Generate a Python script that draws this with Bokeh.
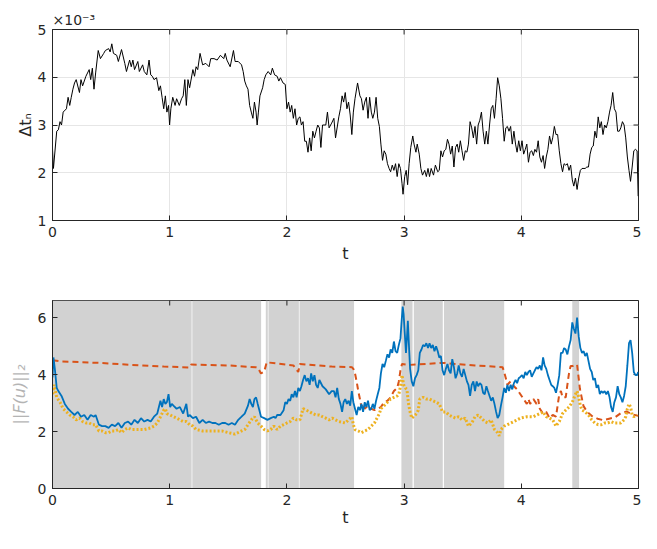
import math
from bokeh.plotting import figure
from bokeh.layouts import column
from bokeh.models import Range1d, FixedTicker
from bokeh.embed import file_html
from bokeh.resources import INLINE

# ---------------- top panel: time step (units of 1e-3) ----------------
top_t = [0.000, 0.008, 0.036, 0.050, 0.064, 0.077, 0.091, 0.119, 0.133, 0.147, 0.160, 0.174, 0.188, 0.202,
         0.230, 0.243, 0.257, 0.285, 0.313, 0.326, 0.340, 0.354, 0.368, 0.390, 0.409, 0.437, 0.451, 0.479,
         0.492, 0.506, 0.520, 0.548, 0.562, 0.589, 0.617, 0.631, 0.658, 0.672, 0.686, 0.700, 0.728, 0.741,
         0.769, 0.783, 0.805, 0.824, 0.838, 0.852, 0.866, 0.888, 0.907, 0.921, 0.935, 0.949, 0.963, 0.976,
         0.990, 0.999, 1.010, 1.026, 1.046, 1.059, 1.082, 1.101, 1.115, 1.129, 1.142, 1.156, 1.170, 1.198,
         1.212, 1.225, 1.239, 1.259, 1.281, 1.308, 1.336, 1.350, 1.378, 1.405, 1.433, 1.461, 1.474, 1.488,
         1.516, 1.544, 1.558, 1.585, 1.613, 1.627, 1.640, 1.654, 1.668, 1.682, 1.696, 1.710, 1.723, 1.737,
         1.746, 1.757, 1.770, 1.793, 1.806, 1.820, 1.840, 1.862, 1.876, 1.895, 1.917, 1.931, 1.945, 1.967,
         1.986, 2.000, 2.014, 2.028, 2.041, 2.055, 2.069, 2.083, 2.097, 2.111, 2.124, 2.138, 2.152, 2.166,
         2.180, 2.194, 2.207, 2.221, 2.235, 2.249, 2.263, 2.277, 2.290, 2.304, 2.332, 2.346, 2.360, 2.382,
         2.401, 2.415, 2.443, 2.457, 2.471, 2.484, 2.498, 2.512, 2.526, 2.540, 2.554, 2.567, 2.581, 2.603,
         2.623, 2.636, 2.650, 2.664, 2.678, 2.692, 2.706, 2.720, 2.733, 2.747, 2.761, 2.775, 2.789, 2.802,
         2.816, 2.830, 2.844, 2.858, 2.872, 2.885, 2.899, 2.913, 2.927, 2.941, 2.955, 2.969, 2.982, 2.991,
         3.005, 3.018, 3.030, 3.043, 3.057, 3.074, 3.085, 3.101, 3.112, 3.129, 3.143, 3.157, 3.176, 3.190,
         3.204, 3.217, 3.231, 3.251, 3.267, 3.287, 3.300, 3.314, 3.328, 3.342, 3.356, 3.370, 3.383, 3.397,
         3.411, 3.425, 3.439, 3.453, 3.466, 3.480, 3.494, 3.508, 3.522, 3.536, 3.549, 3.563, 3.577, 3.591,
         3.605, 3.619, 3.632, 3.646, 3.660, 3.674, 3.688, 3.702, 3.715, 3.729, 3.743, 3.757, 3.771, 3.785,
         3.798, 3.812, 3.826, 3.840, 3.854, 3.868, 3.881, 3.895, 3.909, 3.923, 3.937, 3.951, 3.964, 3.978,
         3.992, 4.006, 4.020, 4.034, 4.047, 4.061, 4.075, 4.089, 4.103, 4.116, 4.130, 4.144, 4.158, 4.172,
         4.186, 4.199, 4.213, 4.227, 4.241, 4.255, 4.268, 4.282, 4.296, 4.310, 4.324, 4.338, 4.352, 4.365,
         4.379, 4.393, 4.407, 4.421, 4.435, 4.448, 4.462, 4.476, 4.490, 4.504, 4.518, 4.545, 4.559, 4.573,
         4.587, 4.601, 4.614, 4.628, 4.642, 4.656, 4.670, 4.683, 4.697, 4.711, 4.725, 4.739, 4.753, 4.766,
         4.780, 4.794, 4.808, 4.822, 4.836, 4.849, 4.863, 4.877, 4.891, 4.905, 4.919, 4.932, 4.946, 4.960,
         4.974, 4.988, 4.997]
top_dt = [2.50, 2.09, 2.87, 2.90, 3.07, 3.00, 3.27, 3.34, 3.58, 3.41, 3.58, 3.75, 3.88, 3.95,
          3.68, 3.95, 3.82, 4.02, 4.16, 3.95, 4.19, 3.75, 4.09, 4.56, 4.39, 4.50, 4.56, 4.60,
          4.53, 4.70, 4.50, 4.46, 4.33, 4.58, 4.29, 4.12, 4.36, 4.22, 4.36, 4.16, 4.33, 4.12,
          4.26, 4.12, 4.05, 4.36, 4.05, 4.02, 3.95, 3.99, 3.72, 3.82, 3.58, 3.34, 3.61, 3.27,
          3.41, 3.00, 3.34, 3.58, 3.41, 3.55, 3.41, 3.55, 3.61, 3.95, 3.41, 3.95, 3.78, 4.16,
          4.02, 4.22, 4.16, 4.50, 4.26, 4.29, 4.22, 4.39, 4.39, 4.36, 4.46, 4.39, 4.50, 4.36,
          4.22, 4.56, 4.33, 4.33, 4.26, 4.12, 3.92, 3.82, 3.75, 3.41, 3.27, 3.14, 3.48, 3.27,
          3.00, 3.27, 3.61, 3.78, 3.95, 4.05, 4.12, 4.05, 4.19, 4.05, 4.02, 3.92, 3.99, 3.88,
          3.85, 3.34, 3.48, 3.27, 3.41, 3.14, 3.34, 3.00, 3.14, 3.17, 3.00, 3.07, 2.66, 2.66,
          2.43, 2.73, 2.46, 2.87, 2.73, 2.87, 3.00, 2.94, 2.53, 3.00, 3.00, 3.27, 2.94, 3.04,
          3.14, 2.73, 3.17, 3.34, 3.61, 3.48, 3.68, 3.34, 3.48, 3.21, 2.80, 3.27, 3.55, 3.88,
          3.61, 3.55, 3.31, 3.48, 3.58, 3.14, 3.58, 3.27, 3.14, 3.27, 3.58, 3.14, 2.97, 2.60,
          2.26, 2.46, 2.39, 2.19, 2.09, 2.02, 2.16, 2.05, 2.19, 1.92, 2.19, 2.09, 1.78, 1.55,
          1.92, 2.05, 1.75, 2.19, 2.53, 2.77, 2.60, 2.43, 2.60, 2.39, 2.09, 1.95, 2.05, 1.92,
          2.09, 1.92, 2.09, 1.95, 2.16, 2.02, 2.05, 2.46, 2.33, 2.46, 2.49, 2.70, 2.60, 2.39,
          2.56, 2.12, 2.53, 2.60, 2.43, 2.67, 2.46, 2.26, 2.46, 2.43, 2.60, 3.07, 2.94, 2.73,
          2.97, 2.60, 3.00, 3.10, 3.27, 2.87, 2.60, 2.87, 2.60, 3.00, 3.34, 3.41, 3.14, 3.55,
          3.99, 3.82, 3.55, 3.14, 2.66, 2.94, 2.97, 2.87, 2.97, 2.60, 2.87, 2.60, 2.43, 2.67,
          2.46, 2.67, 2.39, 2.49, 2.60, 2.22, 2.43, 2.46, 2.36, 2.49, 2.43, 2.67, 2.33, 2.22,
          2.36, 2.09, 2.33, 2.49, 2.77, 2.60, 2.73, 2.97, 2.80, 2.80, 2.46, 2.19, 2.02, 2.19,
          2.16, 2.19, 2.05, 2.16, 1.85, 1.72, 1.89, 1.65, 1.89, 2.05, 2.09, 2.09, 2.12, 2.12,
          2.39, 2.53, 2.56, 2.87, 2.73, 3.17, 2.94, 3.07, 2.80, 3.00, 2.94, 3.07, 3.27, 3.41,
          3.68, 3.34, 3.27, 2.87, 2.87, 2.94, 3.07, 3.00, 2.73, 2.33, 2.05, 1.82, 2.12, 2.46,
          2.49, 2.46, 1.51]

# ---------------- bottom panel ----------------
blue_t = [0.000, 0.008, 0.020, 0.036, 0.050, 0.077, 0.105, 0.133, 0.160, 0.188, 0.216, 0.243, 0.271, 0.299,
          0.326, 0.354, 0.368, 0.396, 0.423, 0.451, 0.479, 0.506, 0.534, 0.562, 0.589, 0.617, 0.645, 0.672,
          0.700, 0.728, 0.755, 0.783, 0.811, 0.838, 0.866, 0.894, 0.921, 0.935, 0.949, 0.963, 0.976, 0.990,
          1.004, 1.018, 1.032, 1.059, 1.087, 1.115, 1.142, 1.156, 1.170, 1.198, 1.225, 1.253, 1.281, 1.308,
          1.336, 1.364, 1.391, 1.419, 1.447, 1.474, 1.502, 1.530, 1.557, 1.585, 1.613, 1.640, 1.668, 1.682,
          1.696, 1.710, 1.723, 1.737, 1.751, 1.765, 1.779, 1.806, 1.834, 1.862, 1.889, 1.903, 1.917, 1.945,
          1.972, 1.986, 2.000, 2.014, 2.028, 2.041, 2.055, 2.069, 2.083, 2.097, 2.111, 2.124, 2.138, 2.152,
          2.166, 2.180, 2.194, 2.207, 2.221, 2.235, 2.249, 2.263, 2.277, 2.304, 2.332, 2.360, 2.382, 2.401,
          2.415, 2.429, 2.443, 2.457, 2.471, 2.484, 2.498, 2.512, 2.526, 2.540, 2.554, 2.567, 2.581, 2.595,
          2.609, 2.623, 2.636, 2.650, 2.664, 2.678, 2.692, 2.706, 2.720, 2.733, 2.747, 2.761, 2.775, 2.789,
          2.802, 2.816, 2.830, 2.844, 2.858, 2.872, 2.885, 2.899, 2.913, 2.927, 2.941, 2.955, 2.969, 2.977,
          2.988, 2.996, 3.005, 3.016, 3.024, 3.032, 3.043, 3.051, 3.065, 3.079, 3.093, 3.107, 3.121, 3.134,
          3.148, 3.162, 3.176, 3.190, 3.204, 3.217, 3.231, 3.245, 3.259, 3.273, 3.287, 3.300, 3.314, 3.328,
          3.342, 3.356, 3.370, 3.383, 3.397, 3.411, 3.425, 3.439, 3.453, 3.466, 3.480, 3.494, 3.508, 3.522,
          3.536, 3.549, 3.563, 3.577, 3.591, 3.605, 3.619, 3.632, 3.646, 3.660, 3.674, 3.688, 3.702, 3.715,
          3.729, 3.743, 3.757, 3.771, 3.785, 3.798, 3.812, 3.826, 3.840, 3.854, 3.868, 3.881, 3.895, 3.909,
          3.923, 3.937, 3.951, 3.964, 3.978, 3.992, 4.006, 4.020, 4.034, 4.047, 4.061, 4.075, 4.089, 4.103,
          4.116, 4.130, 4.144, 4.158, 4.172, 4.186, 4.199, 4.213, 4.227, 4.241, 4.255, 4.268, 4.282, 4.296,
          4.310, 4.324, 4.338, 4.352, 4.365, 4.379, 4.393, 4.407, 4.421, 4.435, 4.448, 4.462, 4.476, 4.490,
          4.504, 4.518, 4.532, 4.545, 4.559, 4.573, 4.587, 4.601, 4.614, 4.628, 4.642, 4.656, 4.670, 4.683,
          4.697, 4.711, 4.725, 4.739, 4.753, 4.766, 4.780, 4.794, 4.808, 4.822, 4.836, 4.849, 4.863, 4.877,
          4.891, 4.905, 4.919, 4.932, 4.946, 4.960, 4.974, 4.988, 4.997]
blue_F = [3.90, 4.60, 4.20, 3.53, 3.42, 3.25, 2.97, 2.80, 2.69, 2.58, 2.69, 2.52, 2.58, 2.41,
          2.58, 2.52, 2.58, 2.24, 2.19, 2.19, 2.13, 2.24, 2.19, 2.30, 2.13, 2.30, 2.35, 2.24,
          2.41, 2.30, 2.47, 2.35, 2.41, 2.35, 2.52, 2.63, 3.08, 2.86, 3.14, 2.97, 3.03, 3.31,
          2.86, 2.97, 2.91, 2.80, 2.86, 2.63, 2.97, 2.52, 2.58, 2.47, 2.52, 2.30, 2.41, 2.30,
          2.35, 2.30, 2.30, 2.24, 2.30, 2.30, 2.24, 2.30, 2.24, 2.41, 2.52, 2.63, 2.91, 3.14,
          2.97, 2.86, 3.14, 3.20, 2.97, 2.75, 2.52, 2.47, 2.41, 2.47, 2.52, 2.47, 2.58, 2.58,
          2.75, 3.03, 2.97, 3.14, 3.08, 3.31, 3.20, 3.42, 3.20, 3.53, 3.42, 3.59, 3.81, 3.98,
          3.76, 3.87, 3.64, 4.04, 3.76, 3.98, 3.64, 3.53, 3.81, 3.59, 3.48, 3.31, 3.42, 3.42,
          3.20, 3.53, 3.14, 2.97, 2.69, 3.03, 3.14, 2.97, 3.08, 2.91, 3.42, 3.03, 2.80, 2.58,
          2.86, 2.75, 2.97, 2.69, 3.03, 2.86, 3.08, 2.75, 2.80, 2.97, 2.80, 3.08, 3.31, 3.53,
          4.04, 4.37, 4.26, 4.48, 4.71, 4.60, 4.88, 4.76, 5.16, 4.82, 4.76, 5.04, 5.27, 5.77,
          6.39, 6.11, 5.49, 4.76, 5.27, 5.89, 4.88, 4.20, 3.76, 3.59, 3.87, 3.98, 4.15, 4.76,
          4.88, 5.04, 4.99, 5.10, 4.93, 5.10, 4.93, 5.04, 4.82, 4.99, 4.82, 4.60, 4.65, 4.15,
          3.98, 4.20, 4.37, 4.15, 4.04, 4.54, 4.26, 3.87, 4.04, 4.32, 4.04, 3.92, 4.20, 3.98,
          3.76, 3.64, 3.25, 3.64, 3.76, 3.42, 3.76, 3.59, 3.70, 3.64, 3.36, 3.31, 3.59, 3.42,
          3.25, 3.08, 3.20, 2.97, 2.69, 2.47, 2.58, 2.91, 3.20, 3.53, 3.36, 3.64, 3.42, 3.64,
          3.48, 3.70, 3.81, 3.70, 3.87, 3.92, 3.98, 3.87, 4.09, 3.98, 4.09, 4.15, 3.92, 4.04,
          4.15, 4.26, 4.20, 4.32, 4.15, 4.60, 4.32, 4.20, 3.98, 3.81, 3.64, 3.59, 3.53, 3.36,
          3.64, 3.98, 4.76, 4.76, 4.93, 4.88, 4.71, 4.99, 5.21, 5.83, 5.61, 5.44, 6.00, 5.33,
          4.93, 4.76, 4.82, 4.65, 4.76, 4.48, 4.20, 4.09, 3.81, 3.87, 3.53, 3.64, 3.31, 3.42,
          3.36, 3.42, 3.31, 3.42, 3.20, 2.86, 2.69, 3.03, 3.20, 3.59, 3.31, 3.20, 3.03, 3.25,
          3.59, 4.32, 5.10, 5.21, 4.76, 4.09, 3.98, 3.98, 4.09]

orange_t = [0.000, 0.078, 0.396, 0.672, 0.949, 1.170, 1.184, 1.502, 1.751, 1.779, 1.806, 1.828, 2.055, 2.097,
            2.111, 2.382, 2.554, 2.567, 2.581, 2.595, 2.609, 2.623, 2.636, 2.650, 2.664, 2.692, 2.720, 2.747,
            2.775, 2.802, 2.830, 2.858, 2.885, 2.913, 2.941, 2.955, 2.969, 2.982, 3.051, 3.328, 3.605, 3.840,
            3.854, 3.868, 3.881, 3.909, 3.937, 3.964, 3.992, 4.020, 4.047, 4.061, 4.075, 4.103, 4.130, 4.144,
            4.158, 4.186, 4.213, 4.241, 4.268, 4.296, 4.324, 4.338, 4.352, 4.379, 4.393, 4.407, 4.421, 4.440,
            4.476, 4.500, 4.530, 4.560, 4.600, 4.650, 4.700, 4.750, 4.800, 4.850, 4.900, 4.950, 5.000]
orange_F = [4.50, 4.46, 4.41, 4.34, 4.28, 4.25, 4.35, 4.32, 4.25, 4.04, 4.10, 4.43, 4.32, 4.09,
            4.37, 4.28, 4.26, 4.20, 4.04, 3.76, 3.42, 3.14, 2.86, 2.97, 2.80, 2.91, 2.80, 2.75,
            2.80, 2.86, 3.03, 3.08, 3.20, 3.42, 3.53, 3.76, 4.15, 4.37, 4.34, 4.41, 4.32, 4.26,
            4.09, 3.87, 3.64, 3.76, 3.59, 3.48, 3.31, 3.14, 2.97, 3.14, 2.97, 3.14, 2.97, 3.14,
            2.80, 2.63, 2.69, 2.47, 2.58, 2.52, 3.31, 3.42, 3.20, 3.20, 3.64, 4.04, 4.30, 4.30,
            4.35, 3.50, 2.90, 2.70, 2.55, 2.45, 2.40, 2.45, 2.50, 2.65, 2.70, 2.60, 2.55]

yellow_t = [0.000, 0.014, 0.036, 0.064, 0.091, 0.119, 0.147, 0.174, 0.202, 0.230, 0.257, 0.285, 0.313, 0.340,
            0.368, 0.396, 0.423, 0.451, 0.479, 0.506, 0.534, 0.562, 0.589, 0.617, 0.645, 0.672, 0.700, 0.728,
            0.783, 0.838, 0.866, 0.894, 0.921, 0.949, 0.963, 0.976, 1.004, 1.032, 1.059, 1.087, 1.115, 1.142,
            1.170, 1.198, 1.225, 1.281, 1.336, 1.391, 1.447, 1.502, 1.557, 1.613, 1.640, 1.668, 1.696, 1.723,
            1.737, 1.751, 1.779, 1.806, 1.834, 1.862, 1.889, 1.917, 1.945, 1.972, 2.000, 2.028, 2.055, 2.083,
            2.111, 2.138, 2.166, 2.194, 2.221, 2.249, 2.277, 2.304, 2.332, 2.360, 2.387, 2.443, 2.498, 2.526,
            2.554, 2.567, 2.581, 2.609, 2.636, 2.664, 2.692, 2.720, 2.747, 2.775, 2.789, 2.802, 2.830, 2.858,
            2.885, 2.913, 2.941, 2.955, 2.969, 2.982, 2.996, 3.010, 3.024, 3.038, 3.051, 3.065, 3.079, 3.107,
            3.121, 3.134, 3.162, 3.190, 3.217, 3.245, 3.273, 3.300, 3.328, 3.356, 3.383, 3.411, 3.439, 3.466,
            3.494, 3.522, 3.549, 3.577, 3.605, 3.632, 3.660, 3.688, 3.715, 3.743, 3.771, 3.798, 3.812, 3.826,
            3.854, 3.881, 3.937, 3.992, 4.047, 4.103, 4.158, 4.186, 4.213, 4.241, 4.268, 4.296, 4.324, 4.352,
            4.379, 4.407, 4.435, 4.462, 4.476, 4.490, 4.504, 4.518, 4.545, 4.573, 4.601, 4.628, 4.656, 4.683,
            4.711, 4.739, 4.766, 4.794, 4.822, 4.849, 4.877, 4.891, 4.905, 4.919, 4.932, 4.946, 4.960, 4.988]
yellow_F = [3.31, 3.64, 3.20, 3.03, 2.80, 2.69, 2.58, 2.52, 2.41, 2.47, 2.35, 2.30, 2.30, 2.24,
            2.24, 2.02, 2.02, 1.96, 1.96, 2.02, 2.02, 2.07, 1.96, 2.07, 2.13, 2.07, 2.07, 2.07,
            2.07, 2.13, 2.19, 2.30, 2.52, 2.75, 2.80, 2.63, 2.58, 2.52, 2.47, 2.41, 2.35, 2.35,
            2.24, 2.19, 2.07, 2.02, 2.02, 2.02, 2.02, 1.96, 1.91, 2.02, 2.07, 2.24, 2.41, 2.52,
            2.41, 2.30, 2.19, 2.07, 2.02, 2.07, 2.19, 2.07, 2.19, 2.24, 2.30, 2.35, 2.47, 2.41,
            2.41, 2.80, 2.75, 2.69, 2.63, 2.58, 2.58, 2.52, 2.47, 2.41, 2.47, 2.35, 2.30, 2.41,
            2.52, 2.24, 2.07, 2.02, 1.96, 2.02, 2.07, 2.19, 2.30, 2.52, 2.63, 2.80, 2.91, 3.03,
            3.14, 3.20, 3.25, 3.31, 3.59, 3.98, 3.64, 3.53, 3.48, 2.97, 2.69, 2.47, 2.52, 2.63,
            2.75, 3.14, 3.20, 3.14, 3.14, 3.08, 3.03, 2.97, 2.69, 2.69, 2.58, 2.52, 2.47, 2.52,
            2.41, 2.47, 2.19, 2.30, 2.52, 2.58, 2.47, 2.35, 2.30, 2.41, 2.07, 1.96, 1.85, 2.07,
            2.19, 2.24, 2.35, 2.47, 2.52, 2.52, 2.63, 2.69, 2.52, 2.47, 2.41, 2.19, 2.35, 2.63,
            2.75, 2.86, 3.03, 3.31, 3.42, 3.20, 2.91, 2.75, 2.69, 2.58, 2.41, 2.30, 2.24, 2.24,
            2.30, 2.30, 2.35, 2.30, 2.30, 2.30, 2.41, 2.52, 2.80, 2.97, 2.86, 2.58, 2.52, 2.58]

# shaded intervals
gray_start = [0.000, 1.193, 1.820, 1.843, 2.108, 2.977, 3.083, 3.340, 4.435]
gray_end = [1.187, 1.780, 1.837, 2.102, 2.573, 3.072, 3.330, 3.854, 4.493]

x_ticks = [0, 1, 2, 3, 4, 5]
top_yticks = [1, 2, 3, 4, 5]
bot_yticks = [0, 2, 4, 6]

FONT = "DejaVu Sans"
TXT = "#262626"
W = 641


def box_axes(p, xticks, yticks, xmax, ymax):
    xa = p.xaxis[0]
    ya = p.yaxis[0]
    for ax in (xa, ya):
        ax.major_tick_in = 5
        ax.major_tick_out = 0
        ax.minor_tick_line_color = None
        ax.axis_line_color = TXT
        ax.major_tick_line_color = TXT
        ax.major_label_text_font = FONT
        ax.major_label_text_font_size = "14px"
        ax.major_label_text_color = TXT
        ax.axis_label_text_font = FONT
        ax.axis_label_text_font_style = "normal"
        ax.axis_label_text_color = TXT
        ax.axis_label_text_font_size = "16px"
        ax.major_label_standoff = 6
    xa.ticker = FixedTicker(ticks=xticks)
    ya.ticker = FixedTicker(ticks=yticks)
    p.outline_line_color = TXT
    p.outline_line_width = 1
    # mirrored inward ticks on the top and right box edges (half of each dash is clipped)
    p.scatter(xticks, [ymax] * len(xticks), marker="dash", size=10, angle=math.pi / 2,
              line_color=TXT, line_width=1)
    p.scatter([xmax] * len(yticks), yticks, marker="dash", size=10,
              line_color=TXT, line_width=1)
    return xa, ya


# ---------------- top figure ----------------
p1 = figure(width=W, height=272, output_backend="svg", toolbar_location=None,
            x_range=Range1d(0, 5), y_range=Range1d(1, 5),
            min_border_left=52, min_border_right=3, min_border_top=29, min_border_bottom=52,
            title="×10⁻³")
p1.title.align = "left"
p1.title.text_font = FONT
p1.title.text_font_size = "14px"
p1.title.text_font_style = "normal"
p1.title.text_color = TXT
p1.title.standoff = 4
p1.xgrid.grid_line_color = "#e6e6e6"
p1.ygrid.grid_line_color = "#e6e6e6"
p1.xgrid.ticker = FixedTicker(ticks=x_ticks)
p1.ygrid.ticker = FixedTicker(ticks=top_yticks)
xa1, ya1 = box_axes(p1, x_ticks, top_yticks, 5, 5)
xa1.axis_label = "t"
xa1.axis_label_standoff = 4
ya1.axis_label = "Δtₙ"
ya1.axis_label_standoff = 0
p1.line(top_t, top_dt, line_color="black", line_width=1)

# ---------------- bottom figure ----------------
p2 = figure(width=W, height=261, output_backend="svg", toolbar_location=None,
            x_range=Range1d(0, 5), y_range=Range1d(0, 6.6),
            min_border_left=52, min_border_right=3, min_border_top=28, min_border_bottom=45)
p2.xgrid.grid_line_color = None
p2.ygrid.grid_line_color = None
p2.quad(left=gray_start, right=gray_end, bottom=0, top=6.6,
        fill_color="#d2d2d2", line_color=None)
xa2, ya2 = box_axes(p2, x_ticks, bot_yticks, 5, 6.6)
xa2.axis_label = "t"
xa2.axis_label_standoff = 0
ya2.axis_label = "||F(u)||₂"
ya2.axis_label_text_color = "#b4b4b4"
ya2.axis_label_text_font_style = "italic"
ya2.axis_label_standoff = 6

p2.line(orange_t, orange_F, line_color="#D95319", line_width=2, line_dash="6 4")
p2.line(yellow_t, yellow_F, line_color="#EDB120", line_width=3, line_dash="2 2")
p2.line(blue_t, blue_F, line_color="#0072BD", line_width=1.8)

layout = column(p1, p2, spacing=0)
open("out.html", "w").write(file_html(layout, INLINE))
